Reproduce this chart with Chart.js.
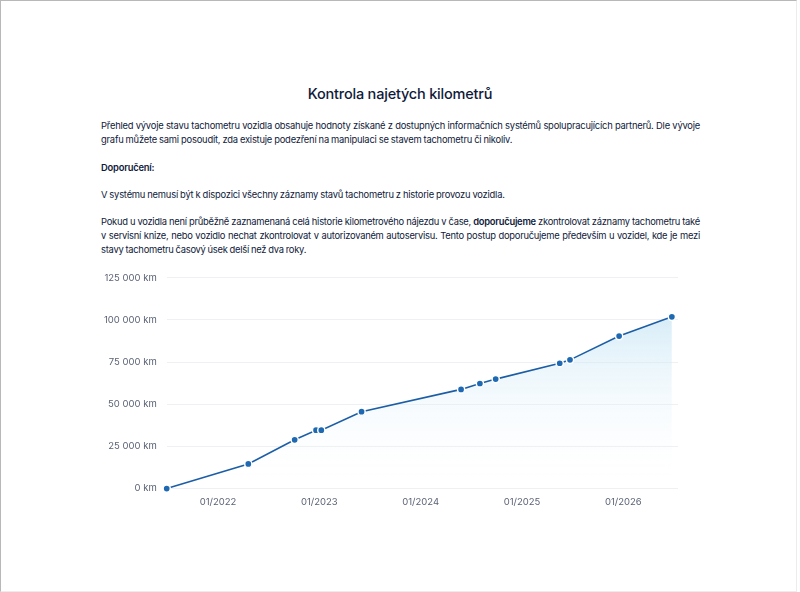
<!DOCTYPE html>
<html lang="cs">
<head>
<meta charset="utf-8">
<title>Kontrola najetých kilometrů</title>
<script src="https://cdn.jsdelivr.net/npm/chart.js@4.4.1/dist/chart.umd.min.js"></script>
<style>
  html, body { margin: 0; padding: 0; background: #fff; }
  body { width: 800px; height: 592px; position: relative; overflow: hidden; font-family: Inter, "Noto Sans", sans-serif; color: #0f1a3a; }
  .frame { position: absolute; left: 0; top: 0; width: 795px; height: 590px; border-top: 1px solid #b8b8b8; border-left: 1px solid #b8b8b8; border-right: 1px solid #ececec; border-bottom: 1px solid #ececec; }
  h1 { position: absolute; top: 85px; left: 0; width: 800px; margin: 0; text-align: center; font-size: 14.5px; font-weight: 500; letter-spacing: -0.2px; }
  .txt { position: absolute; left: 101px; width: 599px; font-size: 9.4px; line-height: 14px; text-align: justify; margin: 0; letter-spacing: -0.22px; word-spacing: -0.3px; }
  .txt b { font-weight: 600; }
  .txt.tight { letter-spacing: -0.26px; word-spacing: -0.4px; }
  #wrap { position: absolute; left: 94px; top: 262px; width: 596px; height: 246px; }
</style>
</head>
<body>
<div class="frame"></div>
<h1>Kontrola najetých kilometrů</h1>
<p class="txt" style="top:119px">Přehled vývoje stavu tachometru vozidla obsahuje hodnoty získané z dostupných informačních systémů spolupracujících partnerů. Dle vývoje grafu můžete sami posoudit, zda existuje podezření na manipulaci se stavem tachometru či nikoliv.</p>
<p class="txt" style="top:161px"><b>Doporučení:</b></p>
<p class="txt" style="top:188px">V systému nemusí být k dispozici všechny záznamy stavů tachometru z historie provozu vozidla.</p>
<p class="txt tight" style="top:215px">Pokud u vozidla není průběžně zaznamenaná celá historie kilometrového nájezdu v čase, <b>doporučujeme</b> zkontrolovat záznamy tachometru také v servisní knize, nebo vozidlo nechat zkontrolovat v autorizovaném autoservisu. Tento postup doporučujeme především u vozidel, kde je mezi stavy tachometru časový úsek delší než dva roky.</p>
<div id="wrap"><canvas id="chart"></canvas></div>
<script>
// data
const dates = ['2021-06-30', '2022-04-20', '2022-10-04', '2022-12-20', '2023-01-08', '2023-06-02',
  '2024-05-26', '2024-08-02', '2024-09-28', '2025-05-17', '2025-06-23', '2025-12-17', '2026-06-25'];
const km = [0, 14600, 28900, 34600, 34600, 45600, 58800, 62300, 64900, 74300, 76300, 90400, 101800];
const tickYears = [2022, 2023, 2024, 2025, 2026];
const yTicks = [0, 25000, 50000, 75000, 100000, 125000];

function toYear(s) {
  const d = new Date(s + 'T00:00:00Z');
  const y = d.getUTCFullYear();
  const a = Date.UTC(y, 0, 1), b = Date.UTC(y + 1, 0, 1);
  return y + (d - a) / (b - a);
}
function fmtKm(v) {
  return String(v).replace(/\B(?=(\d{3})+(?!\d))/g, ' ') + ' km';
}

const points = dates.map((d, i) => ({ x: toYear(d), y: km[i] }));
const tickFont = { family: 'Inter, "Noto Sans", sans-serif', size: 9.5 };

new Chart(document.getElementById('chart'), {
  type: 'line',
  data: {
    datasets: [{
      data: points,
      clip: false,
      borderColor: '#1c5ea6',
      borderWidth: 1.6,
      pointBackgroundColor: '#1f69b3',
      pointBorderColor: '#ffffff',
      pointBorderWidth: 1.5,
      pointRadius: 3.6,
      tension: 0,
      fill: 'origin',
      backgroundColor: ctx => {
        const area = ctx.chart.chartArea;
        if (!area) return 'rgba(200,230,245,0.5)';
        const g = ctx.chart.ctx.createLinearGradient(0, area.top + 40, 0, area.bottom);
        g.addColorStop(0, 'rgba(190,225,243,0.6)');
        g.addColorStop(1, 'rgba(255,255,255,0)');
        return g;
      }
    }]
  },
  options: {
    responsive: true,
    maintainAspectRatio: false,
    animation: false,
    layout: { padding: { top: 4, right: 12 } },
    plugins: { legend: { display: false }, tooltip: { enabled: false } },
    scales: {
      x: {
        type: 'linear',
        min: points[0].x,
        max: 2026.54,
        grid: { display: false },
        border: { display: false },
        afterBuildTicks: axis => { axis.ticks = tickYears.map(v => ({ value: v })); },
        ticks: { color: '#5a6275', font: tickFont, padding: 0, maxRotation: 0, autoSkip: false,
          callback: v => '01/' + v }
      },
      y: {
        min: 0,
        max: 125000,
        grid: { color: '#eef0f3', drawTicks: false },
        border: { display: false },
        afterBuildTicks: axis => { axis.ticks = yTicks.map(v => ({ value: v })); },
        ticks: { color: '#5a6275', font: tickFont, padding: 10, callback: v => fmtKm(v) }
      }
    }
  }
});
</script>
</body>
</html>
